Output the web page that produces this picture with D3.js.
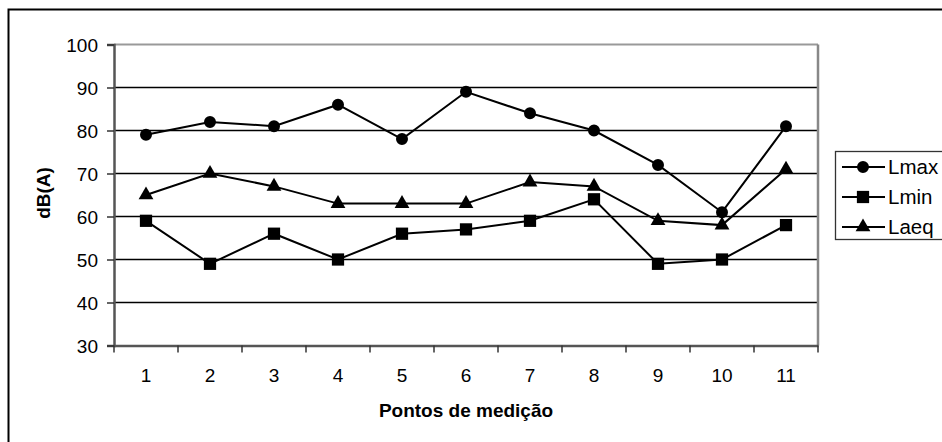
<!DOCTYPE html>
<html>
<head>
<meta charset="utf-8">
<script src="https://cdn.jsdelivr.net/npm/d3@7"></script>
<style>
  html, body { margin: 0; padding: 0; background: #fff; }
  svg { display: block; }
  text { font-family: "Liberation Sans", Arial, sans-serif; fill: #000; }
</style>
</head>
<body>
<svg id="chart" width="942" height="442"></svg>
<script>
const categories = ["1","2","3","4","5","6","7","8","9","10","11"];
const lmax = [79, 82, 81, 86, 78, 89, 84, 80, 72, 61, 81];
const lmin = [59, 49, 56, 50, 56, 57, 59, 64, 49, 50, 58];
const laeq = [65, 70, 67, 63, 63, 63, 68, 67, 59, 58, 71];
const yTicks = [30, 40, 50, 60, 70, 80, 90, 100];
const seriesNames = ["Lmax", "Lmin", "Laeq"];
const xTitle = "Pontos de medição";
const yTitle = "dB(A)";

const series = [
  {name: seriesNames[0], values: lmax, symbol: d3.symbolCircle, size: 113},
  {name: seriesNames[1], values: lmin, symbol: d3.symbolSquare, size: 150},
  {name: seriesNames[2], values: laeq, symbol: d3.symbolTriangle, size: 95}
];

const svg = d3.select("#chart");
const plot = {left: 114, right: 818, top: 44.5, bottom: 345.5};

// outer border
svg.append("rect").attr("x", 8.5).attr("y", 9.5).attr("width", 960).attr("height", 460)
  .attr("fill", "none").attr("stroke", "#000").attr("stroke-width", 2);

const x = d3.scaleBand().domain(categories).range([plot.left, plot.right]).padding(0);
const y = d3.scaleLinear().domain([30, 100]).range([plot.bottom, plot.top]);

// gridlines
svg.append("g").selectAll("line").data(yTicks.filter(t => t > 30 && t < 100)).join("line")
  .attr("x1", plot.left).attr("x2", plot.right)
  .attr("y1", d => y(d)).attr("y2", d => y(d))
  .attr("stroke", "#000").attr("stroke-width", 1.3);

// top and right border of plot area
svg.append("line").attr("x1", plot.left).attr("x2", plot.right).attr("y1", y(100)).attr("y2", y(100))
  .attr("stroke", "#999").attr("stroke-width", 2);
svg.append("line").attr("x1", plot.right).attr("x2", plot.right).attr("y1", plot.top).attr("y2", plot.bottom)
  .attr("stroke", "#888").attr("stroke-width", 2.5);

// y axis
const yAxis = svg.append("g").attr("transform", `translate(${plot.left},0)`)
  .call(d3.axisLeft(y).tickValues(yTicks).tickSize(7).tickPadding(9).tickFormat(d3.format("d")));
yAxis.select(".domain").attr("stroke", "#555").attr("stroke-width", 2.5);
yAxis.selectAll(".tick line").attr("stroke", "#333").attr("stroke-width", 1.5);
yAxis.selectAll(".tick text").style("font-size", "19px").style("font-family", "'Liberation Sans', Arial, sans-serif").attr("dy", "0.36em");

// x axis
const xAxis = svg.append("g").attr("transform", `translate(0,${plot.bottom})`)
  .call(d3.axisBottom(x).tickSize(0).tickPadding(23));
xAxis.select(".domain").attr("stroke", "#555").attr("stroke-width", 2.5);
xAxis.selectAll(".tick text").style("font-size", "19px").style("font-family", "'Liberation Sans', Arial, sans-serif");
// category boundary tick marks
const bounds = categories.map(c => x(c)).concat([x(categories[categories.length-1]) + x.bandwidth()]);
svg.append("g").selectAll("line").data(bounds).join("line")
  .attr("x1", d => d).attr("x2", d => d).attr("y1", plot.bottom).attr("y2", plot.bottom + 7)
  .attr("stroke", "#333").attr("stroke-width", 1.5);

// titles
svg.append("text").attr("x", (plot.left + plot.right) / 2).attr("y", 417)
  .attr("text-anchor", "middle").style("font-size", "19px").style("font-weight", "bold").text(xTitle);
svg.append("text").attr("transform", `translate(50,${(plot.top + plot.bottom) / 2 - 2}) rotate(-90)`)
  .attr("text-anchor", "middle").style("font-size", "19px").style("font-weight", "bold").text(yTitle);

// series
const cx = c => x(c) + x.bandwidth() / 2;
const line = d3.line().x((d, i) => cx(categories[i])).y(d => y(d));
series.forEach(s => {
  svg.append("path").datum(s.values).attr("d", line)
    .attr("fill", "none").attr("stroke", "#000").attr("stroke-width", 2);
  svg.append("g").selectAll("path").data(s.values).join("path")
    .attr("transform", (d, i) => `translate(${cx(categories[i])},${y(d)})`)
    .attr("d", d3.symbol().type(s.symbol).size(s.size)).attr("fill", "#000");
});

// legend
const lg = svg.append("g");
lg.append("rect").attr("x", 835.5).attr("y", 151.5).attr("width", 120).attr("height", 88)
  .attr("fill", "#fff").attr("stroke", "#333").attr("stroke-width", 1.3);
series.forEach((s, i) => {
  const yy = 167 + i * 30;
  lg.append("line").attr("x1", 842).attr("x2", 885).attr("y1", yy).attr("y2", yy)
    .attr("stroke", "#000").attr("stroke-width", 2);
  lg.append("path").attr("transform", `translate(863,${yy})`)
    .attr("d", d3.symbol().type(s.symbol).size(s.size)).attr("fill", "#000");
  lg.append("text").attr("x", 888).attr("y", yy).attr("dy", "0.36em")
    .style("font-size", "20.5px").text(s.name);
});
</script>
</body>
</html>
